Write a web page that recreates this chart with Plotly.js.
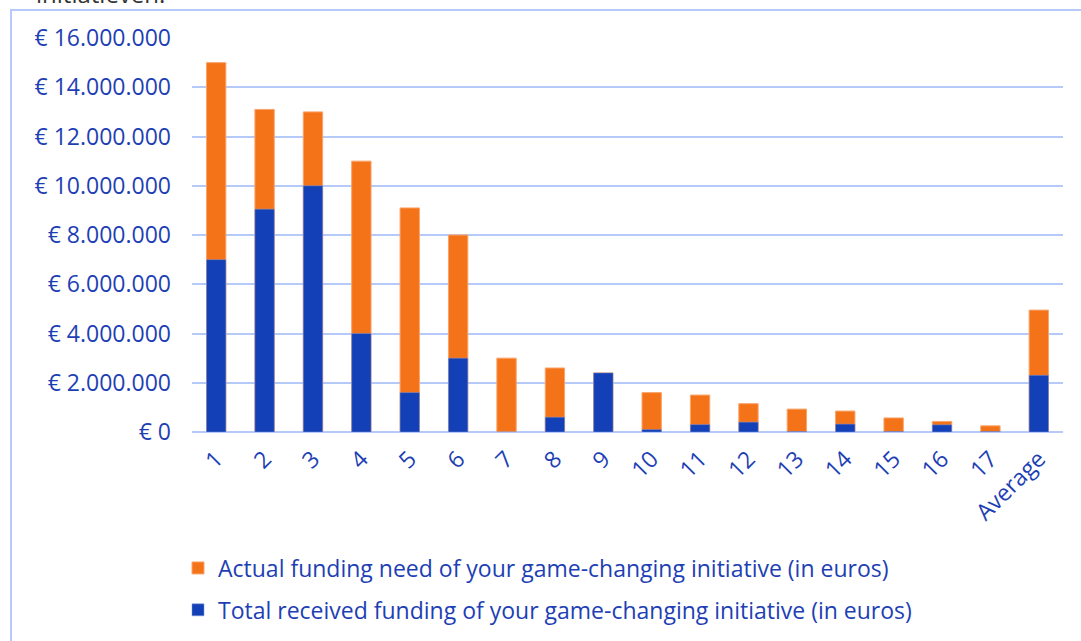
<!DOCTYPE html>
<html>
<head>
<meta charset="utf-8">
<script src="https://cdn.plot.ly/plotly-3.0.1.min.js"></script>
<style>
html,body{margin:0;padding:0;background:#fff;}
#chart{width:1081px;height:641px;}
</style>
</head>
<body>
<div id="chart"></div>
<script>
const categories = ["1","2","3","4","5","6","7","8","9","10","11","12","13","14","15","16","17","Average"];
const fundingNeed = [15000000,13100000,13000000,11000000,9100000,8000000,3000000,2600000,2400000,1600000,1500000,1150000,930000,850000,570000,430000,250000,4950000];
const fundingReceived = [7000000,9050000,10000000,4000000,1600000,3000000,0,600000,2400000,100000,300000,400000,20000,320000,20000,290000,20000,2300000];
const needName = "Actual funding need of your game-changing initiative (in euros)";
const receivedName = "Total received funding of your game-changing initiative (in euros)";
const yTicks = [0,2000000,4000000,6000000,8000000,10000000,12000000,14000000,16000000];
const yTickText = ["€ 0","€ 2.000.000","€ 4.000.000","€ 6.000.000","€ 8.000.000","€ 10.000.000","€ 12.000.000","€ 14.000.000","€ 16.000.000"];

const orange = "#F47319";
const blue = "#1340B6";
const txt = "#1E3FB4";
const grid = "#B6CAF9";
const fontFam = "'Open Sans', 'Noto Sans', sans-serif";
const fs = 23;

const L = 192, R = 18, T = 38, B = 209, W = 1081, H = 641;
const pw = W - L - R, ph = H - T - B;
const px2x = p => (p - L) / pw;
const py2y = p => (H - B - p) / ph;

const traces = [
  {type:"bar", x:categories, y:fundingNeed, name:needName, legendgroup:"a",
   marker:{color:orange, line:{color:"#F9A46A", width:1}}, hoverinfo:"x+y"},
  {type:"bar", x:categories, y:fundingReceived, name:receivedName, legendgroup:"b",
   marker:{color:blue, line:{color:"#7F96D8", width:0.5}}, hoverinfo:"x+y"}
];

const layout = {
  width:W, height:H,
  margin:{l:L, r:R, t:T, b:B, pad:0, autoexpand:false},
  paper_bgcolor:"#fff", plot_bgcolor:"#fff",
  barmode:"overlay", bargap:0.6,
  separators:",.",
  font:{family:fontFam, color:txt, size:fs},
  showlegend:true,
  legend:{orientation:"v", x:px2x(178), y:py2y(546.5), xanchor:"left", yanchor:"top",
          font:{family:fontFam, size:fs, color:txt}, traceorder:"grouped",
          itemwidth:30, tracegroupgap:9, bgcolor:"rgba(0,0,0,0)"},
  xaxis:{type:"category", tickangle:-45, showgrid:false, zeroline:false,
         showline:false, ticks:"", ticklabelstandoff:8,
         tickfont:{family:fontFam, size:fs, color:txt}},
  yaxis:{range:[0,16000000], tickmode:"array", tickvals:yTicks, ticktext:yTickText,
         showgrid:true, gridcolor:grid, gridwidth:2, zeroline:true, zerolinecolor:grid,
         zerolinewidth:2, showline:false, ticks:"", ticklabelstandoff:20,
         tickfont:{family:fontFam, size:fs, color:txt}, automargin:false},
  shapes:[
    {type:"line", xref:"paper", yref:"paper", x0:px2x(11), x1:px2x(11), y0:py2y(10), y1:py2y(660),
     line:{color:grid, width:2}},
    {type:"line", xref:"paper", yref:"paper", x0:px2x(10), x1:px2x(1100), y0:py2y(10), y1:py2y(10),
     line:{color:grid, width:2}}
  ],
  annotations:[
    {xref:"paper", yref:"paper", x:px2x(34), y:py2y(12), xanchor:"left", yanchor:"bottom",
     text:"initiatieven.", showarrow:false, font:{family:fontFam, size:24, color:"#333"}}
  ]
};

Plotly.newPlot("chart", traces, layout, {displayModeBar:false, staticPlot:true});
</script>
</body>
</html>
